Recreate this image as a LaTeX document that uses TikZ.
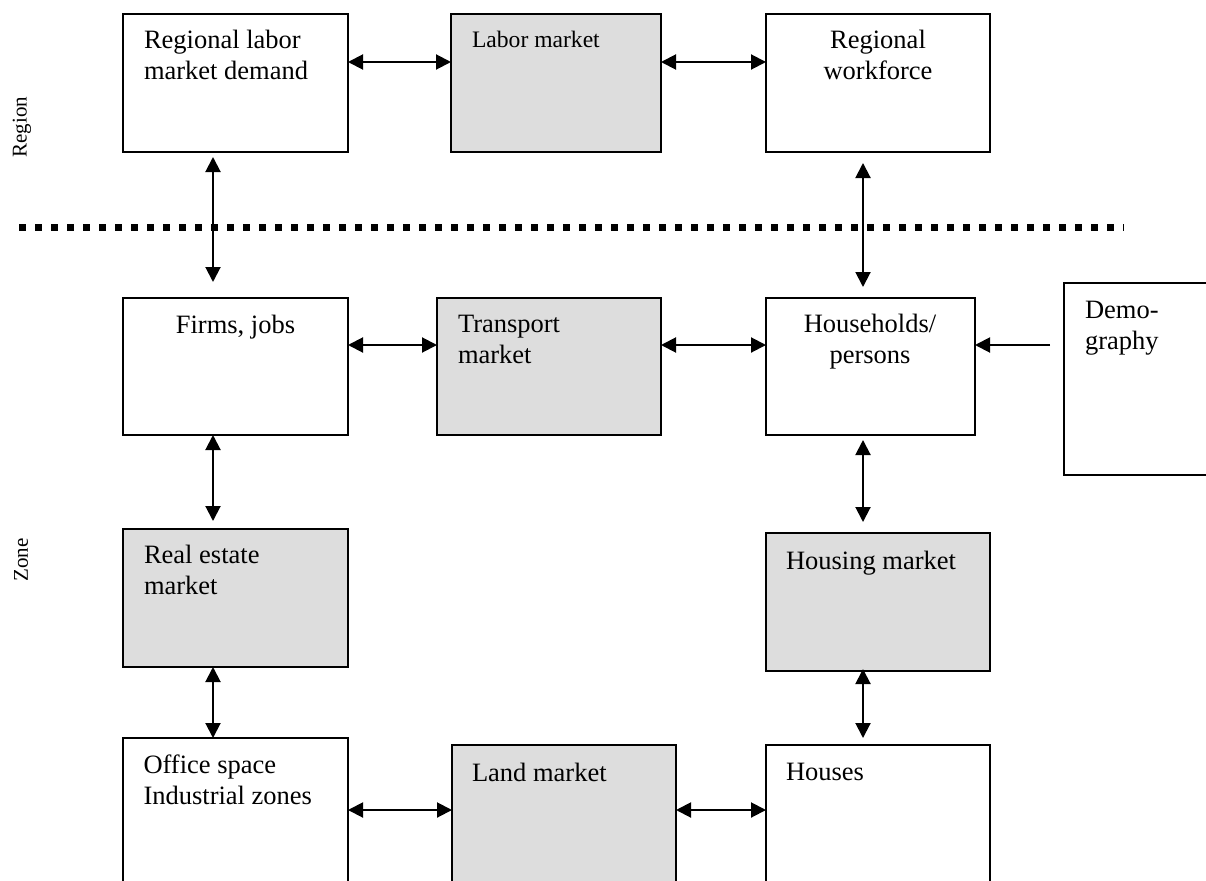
\documentclass[tikz,border=0pt]{standalone}
\usepackage{fontspec}
\setmainfont{Liberation Serif}
\usetikzlibrary{arrows.meta}
\definecolor{boxgray}{RGB}{221,221,221}
\tikzset{
  box/.style={draw=black, line width=2pt, rectangle, anchor=north west, inner sep=0pt, outer sep=0pt},
  grayfill/.style={fill=boxgray},
  txt/.style={font=\fontsize{26.5}{31}\selectfont, inner sep=0pt, outer sep=0pt, align=left, anchor=base west},
  ctxt/.style={font=\fontsize{26.5}{31}\selectfont, inner sep=0pt, outer sep=0pt, align=center, anchor=base},
  smalltxt/.style={font=\fontsize{23.6}{28}\selectfont, inner sep=0pt, outer sep=0pt, anchor=base west},
  side/.style={font=\fontsize{21}{25}\selectfont, rotate=90, inner sep=0pt},
  arr/.style={line width=2pt, {Triangle[length=15pt,width=15pt]}-{Triangle[length=15pt,width=15pt]}},
  sarr/.style={line width=2pt, -{Triangle[length=15pt,width=15pt]}},
  dotline/.style={line width=7pt, dash pattern=on 7pt off 9pt}
}
\begin{document}
\begin{tikzpicture}[x=1pt,y=-1pt]
\useasboundingbox (0,0) rectangle (1206,880);
\clip (0,0) rectangle (1206,880);
% boxes
\node[box, minimum width=225pt, minimum height=138pt] (rlmd) at (123,14) {};
\node[box, grayfill, minimum width=210pt, minimum height=138pt] (lm) at (451,14) {};
\node[box, minimum width=224pt, minimum height=138pt] (rw) at (766,14) {};
\node[box, minimum width=225pt, minimum height=137pt] (firms) at (123,298) {};
\node[box, grayfill, minimum width=224pt, minimum height=137pt] (tm) at (437,298) {};
\node[box, minimum width=209pt, minimum height=137pt] (hh) at (766,298) {};
\node[box, minimum width=200pt, minimum height=192pt] (demog) at (1064,283) {};
\node[box, grayfill, minimum width=225pt, minimum height=138pt] (re) at (123,529) {};
\node[box, grayfill, minimum width=224pt, minimum height=138pt] (hm) at (766,533) {};
\node[box, minimum width=225pt, minimum height=200pt] (office) at (123,738) {};
\node[box, grayfill, minimum width=224pt, minimum height=200pt] (land) at (452,745) {};
\node[box, minimum width=224pt, minimum height=200pt] (houses) at (766,745) {};
% texts (multi-line nodes are anchored at the baseline of their last line)
\node[txt] (rlmd-t) at (144,80) {Regional labor\\market demand};
\node[smalltxt] (lm-t) at (472,48) {Labor market};
\node[ctxt] (rw-t) at (878,80) {Regional\\workforce};
\node[ctxt] (firms-t) at (235.5,333) {Firms, jobs};
\node[txt] (tm-t) at (458,363) {Transport\\market};
\node[ctxt] (hh-t) at (870,363) {Households/\\persons};
\node[txt] (demog-t) at (1085,349) {Demo-\\graphy};
\node[txt] (re-t) at (144,594) {Real estate\\market};
\node[txt] (hm-t) at (786,569) {Housing market};
\node[txt] (office-t) at (143.5,804) {Office space\\Industrial zones};
\node[txt] (land-t) at (472,781) {Land market};
\node[txt] (houses-t) at (786,780) {Houses};
% side labels
\node[side] (region) at (22,127) {Region};
\node[side] (zone) at (21,560) {Zone};
% dotted separator
\draw[dotline] (19,227) -- (1124,227);
% connectors
\draw[arr] ([yshift=-48pt]rlmd.north east) -- ([yshift=-48pt]lm.north west);
\draw[arr] ([yshift=-48pt]lm.north east) -- ([yshift=-48pt]rw.north west);
\draw[arr, shorten <=5pt, shorten >=16pt] ([xshift=-22.5pt]rlmd.south) -- ([xshift=-22.5pt]firms.north);
\draw[arr, shorten <=11pt, shorten >=11pt] ([xshift=-15pt]rw.south) -- ([xshift=-7.5pt]hh.north);
\draw[arr] ([yshift=-47pt]firms.north east) -- ([yshift=-47pt]tm.north west);
\draw[arr] ([yshift=-47pt]tm.north east) -- ([yshift=-47pt]hh.north west);
\draw[sarr, shorten <=14pt] ([yshift=-62pt]demog.north west) -- ([yshift=-47pt]hh.north east);
\draw[arr, shorten >=8pt] ([xshift=-22.5pt]firms.south) -- ([xshift=-22.5pt]re.north);
\draw[arr, shorten <=5pt, shorten >=11pt] ([xshift=-7.5pt]hh.south) -- ([xshift=-15pt]hm.north);
\draw[arr] ([xshift=-22.5pt]re.south) -- ([xshift=-22.5pt]office.north);
\draw[arr, shorten <=-2pt, shorten >=7pt] ([xshift=-15pt]hm.south) -- ([xshift=-15pt]houses.north);
\draw[arr] ([yshift=-72pt]office.north east) -- ([yshift=-65pt]land.north west);
\draw[arr] ([yshift=-65pt]land.north east) -- ([yshift=-65pt]houses.north west);
\end{tikzpicture}
\end{document}
